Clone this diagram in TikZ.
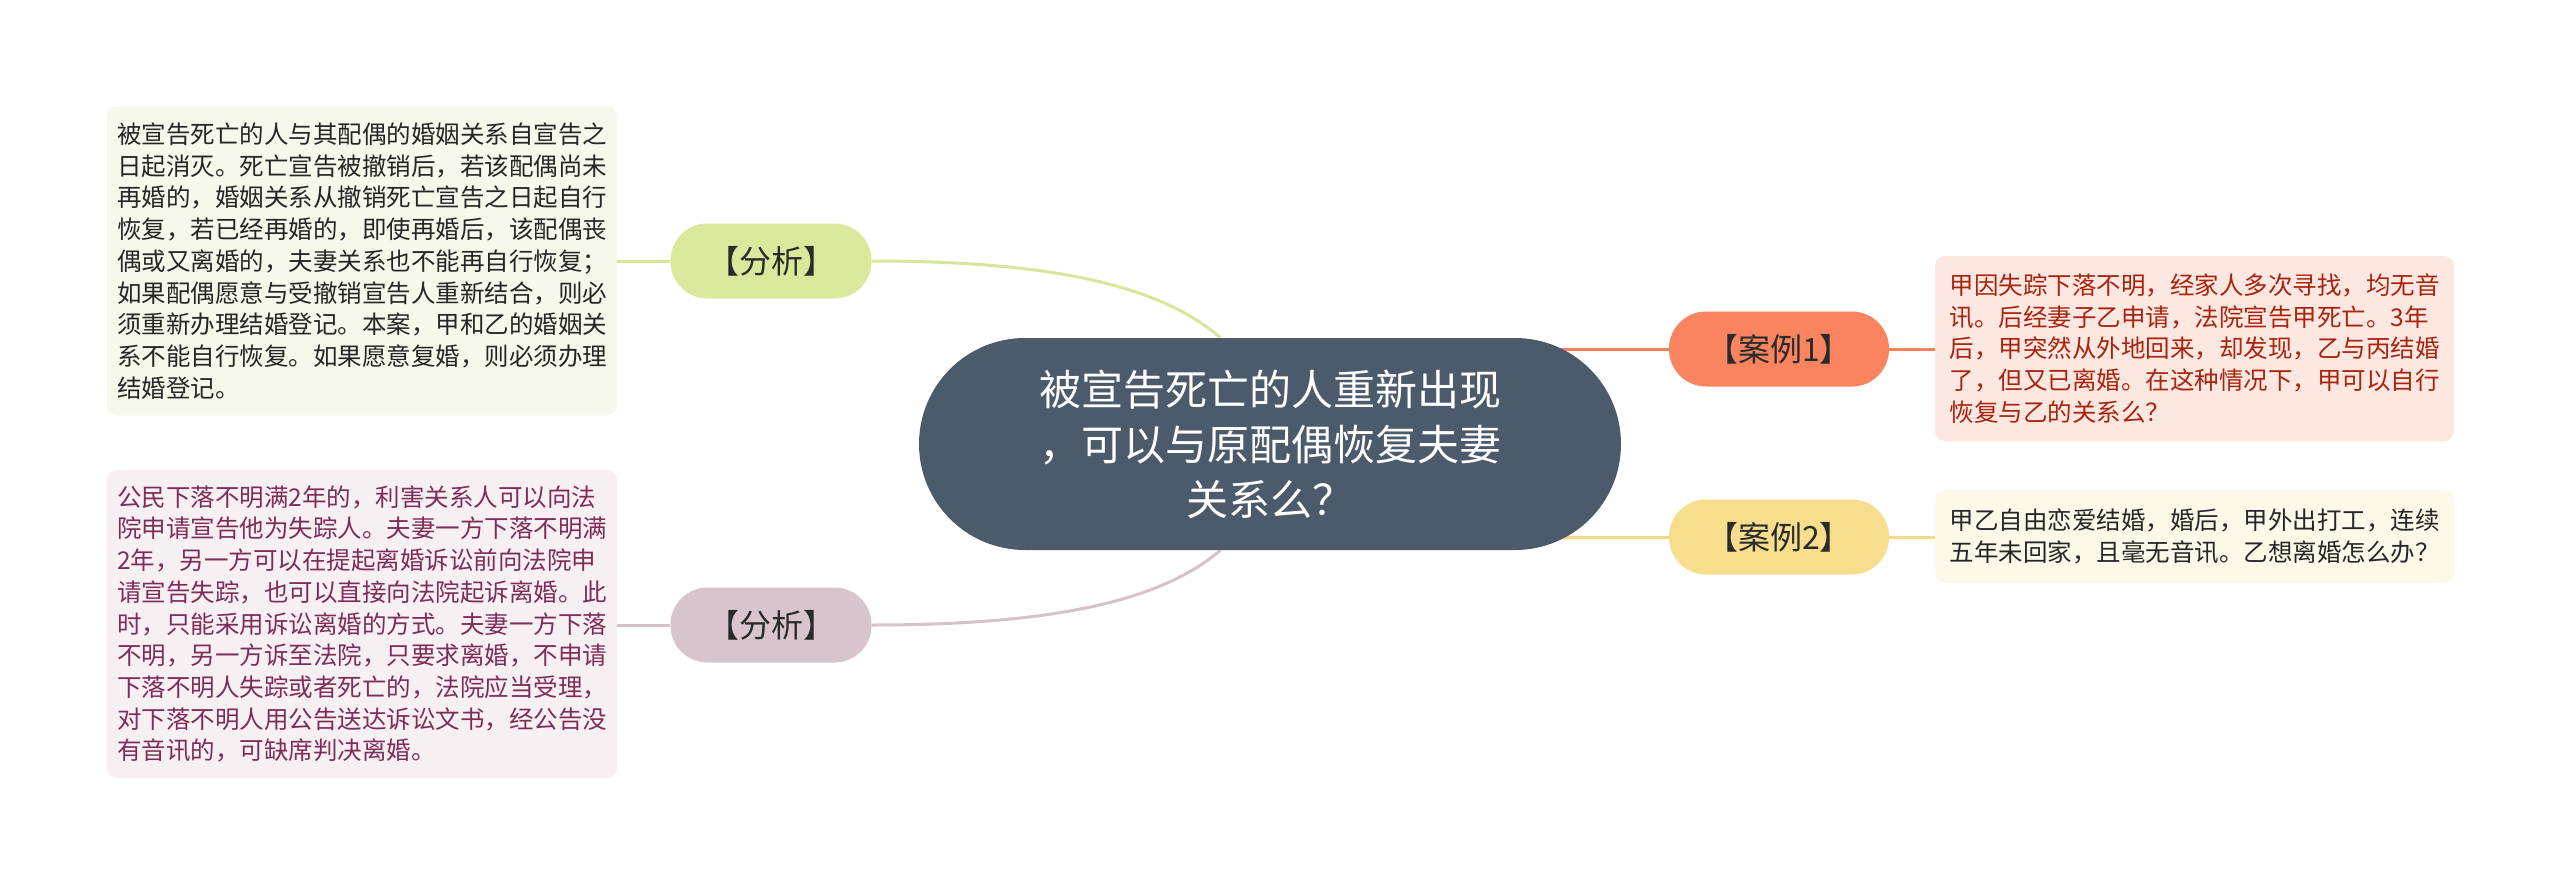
\documentclass[tikz,border=0pt]{standalone}
\usepackage{fontspec}
\newfontfamily\cjk{Noto Sans CJK SC}
\usetikzlibrary{backgrounds,calc}
\definecolor{centralfill}{HTML}{4B5B6B}
\definecolor{greenlab}{HTML}{D9E89B}
\definecolor{pinklab}{HTML}{D8C4CC}
\definecolor{corallab}{HTML}{FA845F}
\definecolor{yellowlab}{HTML}{F6DE8D}
\definecolor{greenline}{HTML}{D6E69A}
\definecolor{pinkline}{HTML}{D6C2CA}
\definecolor{coralline}{HTML}{F3805F}
\definecolor{yellowline}{HTML}{F4DA88}
\definecolor{greenbox}{HTML}{F6F8EB}
\definecolor{pinkbox}{HTML}{F6F0F3}
\definecolor{coralbox}{HTML}{FDE7E1}
\definecolor{yellowbox}{HTML}{FDF8E7}
\definecolor{pinktext}{HTML}{7E2D57}
\definecolor{coraltext}{HTML}{A8240F}
\definecolor{darktext}{HTML}{2B2B2B}
\begin{document}
\begin{tikzpicture}[x=1pt,y=-1pt,
  labnode/.style={rounded corners=37pt, minimum width=201pt, minimum height=75pt, inner sep=0pt, font=\cjk\fontsize{32}{38}\selectfont, text=darktext},
  textbox/.style={rounded corners=10pt, inner ysep=0pt, align=left, font=\cjk\fontsize{24.5}{31.7}\selectfont},
  conn/.style={line width=3pt},
]
\useasboundingbox (0,0) rectangle (2560,886);

\node[fill=centralfill, rounded corners=106pt, minimum width=702pt, minimum height=212pt,
      text=white, font=\cjk\fontsize{42}{55}\selectfont, align=center, inner sep=0pt]
  (c) at (1270,444) {被宣告死亡的人重新出现\\，可以与原配偶恢复夫妻\\关系么？};

\node[labnode, fill=greenlab] (lt) at (771,261) {【分析】};
\node[labnode, fill=pinklab] (lb) at (771,625) {【分析】};
\node[labnode, fill=corallab, minimum width=220pt] (r1) at (1779,349) {【案例1】};
\node[labnode, fill=yellowlab, minimum width=220pt] (r2) at (1779,537) {【案例2】};

\node[textbox, fill=greenbox, text=black!85, text width=490pt, inner xsep=10pt, minimum height=309pt] (tb) at (362,261) {%
被宣告死亡的人与其配偶的婚姻关系自宣告之\\
日起消灭。死亡宣告被撤销后，若该配偶尚未\\
再婚的，婚姻关系从撤销死亡宣告之日起自行\\
恢复，若已经再婚的，即使再婚后，该配偶丧\\
偶或又离婚的，夫妻关系也不能再自行恢复；\\
如果配偶愿意与受撤销宣告人重新结合，则必\\
须重新办理结婚登记。本案，甲和乙的婚姻关\\
系不能自行恢复。如果愿意复婚，则必须办理\\
结婚登记。};

\node[textbox, fill=pinkbox, text=pinktext, text width=490pt, inner xsep=10pt, minimum height=308pt] (bb) at (362,624) {%
公民下落不明满2年的，利害关系人可以向法\\
院申请宣告他为失踪人。夫妻一方下落不明满\\
2年，另一方可以在提起离婚诉讼前向法院申\\
请宣告失踪，也可以直接向法院起诉离婚。此\\
时，只能采用诉讼离婚的方式。夫妻一方下落\\
不明，另一方诉至法院，只要求离婚，不申请\\
下落不明人失踪或者死亡的，法院应当受理，\\
对下落不明人用公告送达诉讼文书，经公告没\\
有音讯的，可缺席判决离婚。};

\node[textbox, fill=coralbox, text=coraltext, text width=490pt, inner xsep=14.5pt, minimum height=185pt] (rb1) at (2194.5,348.5) {%
甲因失踪下落不明，经家人多次寻找，均无音\\
讯。后经妻子乙申请，法院宣告甲死亡。3年\\
后，甲突然从外地回来，却发现，乙与丙结婚\\
了，但又已离婚。在这种情况下，甲可以自行\\
恢复与乙的关系么？};

\node[textbox, fill=yellowbox, text=black!85, text width=490pt, inner xsep=14.5pt, minimum height=93pt] (rb2) at (2194.5,536.5) {%
甲乙自由恋爱结婚，婚后，甲外出打工，连续\\
五年未回家，且毫无音讯。乙想离婚怎么办？};

\begin{pgfonlayer}{background}
\fill[white] (0,0) rectangle (2560,886);
\draw[conn, greenline] (lt.east) .. controls (1050,261) and (1160,285) .. (c.115);
\draw[conn, pinkline] (c.245) .. controls (1160,602) and (1050,625) .. (lb.east);
\draw[conn, greenline] (lt.west) -- (tb.east |- lt.west);
\draw[conn, pinkline] (lb.west) -- (bb.east |- lb.west);
\draw[conn, coralline] (c.center |- r1.west) -- (r1.west);
\draw[conn, yellowline] (c.center |- r2.west) -- (r2.west);
\draw[conn, coralline] (r1.east) -- (rb1.west |- r1.east);
\draw[conn, yellowline] (r2.east) -- (rb2.west |- r2.east);
\end{pgfonlayer}
\end{tikzpicture}
\end{document}
